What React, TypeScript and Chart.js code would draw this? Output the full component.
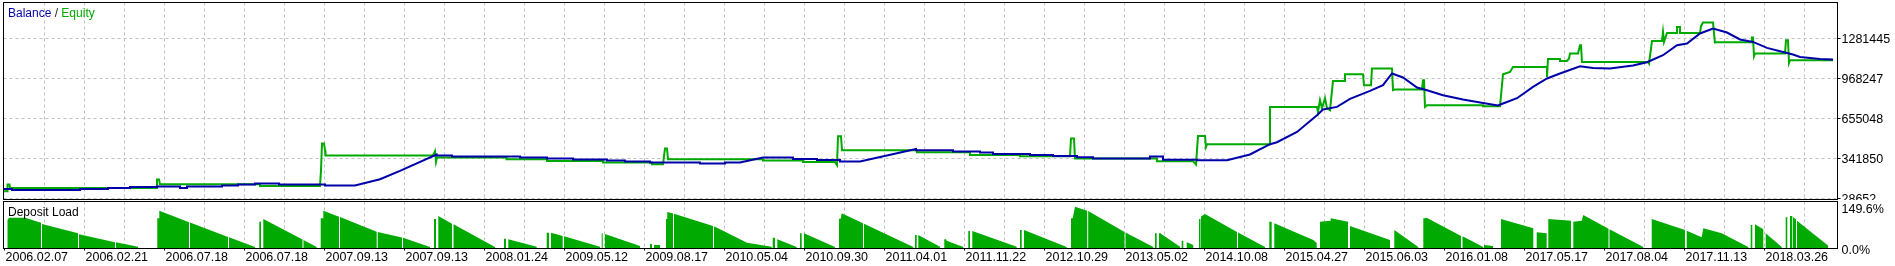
import React, { useEffect, useRef } from 'react';
import { Chart, registerables } from 'chart.js';

Chart.register(...registerables);

// ---------------- data ----------------
const dateLabels = [
  '2006.02.07', '2006.02.21', '2006.07.18', '2006.07.18', '2007.09.13', '2007.09.13',
  '2008.01.24', '2009.05.12', '2009.08.17', '2010.05.04', '2010.09.30', '2011.04.01',
  '2011.11.22', '2012.10.29', '2013.05.02', '2014.10.08', '2015.04.27', '2015.06.03',
  '2016.01.08', '2017.05.17', '2017.08.04', '2017.11.13', '2018.03.26',
];

const balanceLevels = [28652, 341850, 655048, 968247, 1281445];
const loadLevels = [0, 149.6];

// [trade index, balance]
const balancePoints = [
  [-0.5, 103800], [7.5, 103800], [7.5, 96000], [75.5, 96000], [75.5, 103800], [103.5, 103800],
  [103.5, 111700], [125.5, 111700], [125.5, 119500], [152.5, 119500], [152.5, 122600], [175.5, 122600],
  [175.5, 111700], [182.5, 111700], [182.5, 122600], [217.5, 122600], [217.5, 130400], [233.5, 130400],
  [233.5, 138300], [250.5, 138300], [250.5, 146100], [274.5, 146100], [274.5, 138300], [320.5, 138300],
  [320.5, 130400], [350.5, 130400], [375.5, 179800], [395.5, 244800], [432, 373200], [432, 365300],
  [447.5, 365300], [447.5, 357500], [515.5, 357500], [515.5, 349700], [542.5, 349700], [542.5, 341900],
  [568.5, 341900], [568.5, 334000], [602.5, 334000], [602.5, 326200], [620.5, 326200], [620.5, 318400],
  [645.5, 318400], [645.5, 310500], [695.5, 310500], [695.5, 302700], [720.5, 302700], [720.5, 310500],
  [735.5, 310500], [758.5, 349700], [788.5, 349700], [788.5, 338700], [812.5, 338700], [812.5, 330900],
  [835.5, 330900], [835.5, 318400], [855.5, 318400], [911.5, 417000], [911.5, 406800], [948.5, 406800],
  [948.5, 396700], [975.5, 396700], [975.5, 388800], [988.5, 388800], [988.5, 377900], [1025.5, 377900],
  [1025.5, 370000], [1048.5, 370000], [1048.5, 362200], [1072.5, 362200], [1072.5, 352000], [1088.5, 352000],
  [1088.5, 341900], [1145.5, 341900], [1145.5, 357500], [1158.5, 357500], [1158.5, 332500], [1192.5, 332500],
  [1192.5, 328500], [1222.5, 328500], [1245.5, 373200], [1265.5, 453800], [1272.5, 469500], [1292.5, 550100],
  [1312.5, 680900], [1318.5, 725500], [1332.5, 745900], [1345.5, 808500], [1365.5, 871200], [1378.5, 915800],
  [1387.5, 1007400], [1398.5, 976100], [1412.5, 897800], [1422.5, 876600], [1438.5, 837500], [1458.5, 803800],
  [1478.5, 777200], [1493.5, 756800], [1498.5, 772500], [1512.5, 814000], [1528.5, 902500], [1542.5, 968300],
  [1555.5, 1007400], [1575.5, 1064600], [1588.5, 1051300], [1605.5, 1046600], [1628.5, 1070000], [1642.5, 1095900],
  [1658.5, 1150700], [1672.5, 1229000], [1682.5, 1242300], [1695.5, 1320600], [1708.5, 1359800], [1722.5, 1328400],
  [1735.5, 1273600], [1748.5, 1254800], [1762.5, 1207900], [1775.5, 1182000], [1788.5, 1156200], [1795.5, 1137400],
  [1815.5, 1121700], [1828.5, 1117000],
];

// [trade index, equity]
const equityPoints = [
  [-0.5, 85800], [2.5, 85800], [3, 138300], [5, 138300], [5.5, 111700], [152.5, 111700],
  [152.5, 177400], [154.5, 177400], [155.5, 140600], [255.5, 140600], [255.5, 127300], [315.5, 127300],
  [316.5, 250200], [317.5, 459300], [319.5, 459300], [320.5, 406800], [321, 365300], [428.5, 365300],
  [430.5, 399000], [431.5, 315200], [432.5, 349700], [502, 349700], [502, 336400], [542.5, 336400],
  [542.5, 323100], [598.5, 323100], [598.5, 310500], [647.5, 310500], [647.5, 297200], [658.5, 297200],
  [660.5, 420200], [662.5, 420200], [663.5, 336400], [758.5, 336400], [758.5, 326200], [798.5, 326200],
  [798.5, 315200], [830.5, 315200], [832.5, 289400], [833.5, 516500], [836.5, 516500], [837.5, 406800],
  [912.5, 406800], [912.5, 391200], [965.5, 391200], [965.5, 370000], [1015.5, 370000], [1015.5, 359900],
  [1065.5, 359900], [1066.5, 498500], [1069.5, 498500], [1070.5, 341900], [1152.5, 341900], [1152.5, 320700],
  [1188.5, 320700], [1191.5, 294900], [1193.5, 518800], [1200.5, 518800], [1201.5, 432700], [1202.5, 453800],
  [1265.5, 453800], [1265.5, 745900], [1312.5, 745900], [1313.5, 706700], [1315.5, 798300], [1317.5, 735700],
  [1320.5, 814000], [1322.5, 735700], [1325.5, 720000], [1328.5, 949500], [1340.5, 949500], [1340.5, 1001900],
  [1358.5, 1001900], [1359.5, 915800], [1366.5, 915800], [1367.5, 1046600], [1387.5, 1046600], [1388.5, 876600],
  [1390.5, 882100], [1417.5, 882100], [1418.5, 954900], [1419.5, 954900], [1420.5, 745900], [1422.5, 759200],
  [1478.5, 759200], [1478.5, 751400], [1495.5, 751400], [1498.5, 1001900], [1505.5, 1019900], [1508.5, 1059100],
  [1542.5, 1059100], [1542.5, 980800], [1543.5, 1121700], [1555.5, 1121700], [1555.5, 1106100], [1562.5, 1106100],
  [1564.5, 1124900], [1565.5, 1164000], [1573.5, 1164000], [1575.5, 1229000], [1576.5, 1229000], [1577.5, 1098200],
  [1643.5, 1098200], [1644.5, 1085700], [1647.5, 1262700], [1657.5, 1262700], [1658.5, 1333100], [1659.5, 1254800],
  [1662.5, 1325300], [1672.5, 1325300], [1672.5, 1372300], [1675.5, 1372300], [1675.5, 1325300], [1695.5, 1325300],
  [1696.5, 1377800], [1698.5, 1406700], [1708.5, 1406700], [1710.5, 1242300], [1710.5, 1252500], [1747.5, 1252500],
  [1747.5, 1289300], [1748.5, 1289300], [1749.5, 1142900], [1750.5, 1164000], [1780.5, 1164000], [1781.5, 1268100],
  [1783.5, 1268100], [1784.5, 1090400], [1785.5, 1111500], [1828.5, 1111500],
];

// deposit load (%) : runs of contiguous bars, [trade index, load]
const loadRuns = [
  [[2.8, 100.8], [4.8, 109.3], [20.5, 109.3], [36.5, 90.9]],
  [[37.5, 86.2], [73.5, 52.1]],
  [[74.5, 48.4], [110.5, 19.1]],
  [[111.5, 19.1], [133.5, 2.9]],
  [[152.8, 107.1], [154.8, 107.1], [154.8, 134.9], [184.5, 92.4]],
  [[185.5, 91.7], [223.5, 38.5]],
  [[224.5, 37.4], [250.5, 1.8]],
  [[254.8, 94.6], [256.5, 94.6]],
  [[258.8, 104.5], [260.8, 100.8], [298, 29]],
  [[299, 27.9], [312.2, 1.8]],
  [[316.2, 107.1], [318.8, 107.1], [318.8, 134.9], [334.5, 112.9]],
  [[335.5, 112], [372.2, 57.9]],
  [[373.2, 57], [397.5, 36.7]],
  [[398.5, 36], [425.5, 1.8]],
  [[429.5, 104.5], [431.5, 104.5]],
  [[433.8, 115.5], [447.5, 86.9]],
  [[449, 85.5], [490.5, 1.8]],
  [[499.5, 32.3], [501.5, 32.3]],
  [[503.8, 30.1], [532.2, 2.9]],
  [[542.2, 54.3], [544.5, 54.3]],
  [[546.5, 54.3], [558.2, 42.2]],
  [[559.5, 41.1], [595.5, 2.9]],
  [[597.2, 52.1], [598.2, 52.1]],
  [[600.5, 49.5], [635.5, 5.5]],
  [[645.5, 12.8], [647.5, 12.8]],
  [[649.5, 9.2], [655.5, 9.2]],
  [[661.5, 104.5], [662.8, 104.5], [662.8, 130.2], [668.5, 124.7]],
  [[669.5, 123.9], [708.5, 78.8]],
  [[709.5, 77.7], [742.5, 17.6], [767.2, 2.9]],
  [[768.2, 35.9], [770.5, 35.9]],
  [[772.8, 30.1], [792.2, 1.8]],
  [[795.5, 52.1], [797.2, 52.1]],
  [[799.5, 52.1], [830.5, 1.8]],
  [[834.5, 105.6], [836.2, 105.6], [837.2, 125.4], [858.5, 88.7]],
  [[859.5, 86.9], [908.8, 1.8]],
  [[910.5, 45.8], [912.2, 45.8]],
  [[913.8, 45.8], [935.5, 2.9]],
  [[939.8, 30.1], [941.5, 30.1], [942.2, 24.9], [958.8, 1.8]],
  [[963.8, 60.5], [965.5, 60.5]],
  [[967.8, 60.5], [1012.2, 2.9]],
  [[1015.5, 64.2], [1017.2, 64.2]],
  [[1019.5, 64.2], [1062.2, 1.8]],
  [[1066.5, 107.1], [1068.2, 107.1], [1070.5, 149.6], [1082.7, 134.9]],
  [[1083.7, 133.8], [1120, 56.8]],
  [[1121, 55], [1148.8, 1.8]],
  [[1150.5, 52.1], [1152.2, 52.1]],
  [[1154.5, 52.1], [1156.2, 52.1], [1157.2, 48.4], [1175.5, 2.9]],
  [[1177.2, 24.9], [1178.8, 24.9]],
  [[1182.2, 19.1], [1188.8, 9.2]],
  [[1194.5, 104.5], [1196, 104.5]],
  [[1196.5, 113.7], [1200.5, 122.8], [1232.5, 56.8]],
  [[1233.5, 55], [1260.5, 1.8]],
  [[1264.8, 94.6], [1267.2, 94.6]],
  [[1269.8, 88.7], [1308.8, 27.5], [1312.2, 16.5]],
  [[1315.5, 94.6], [1325.5, 98.3], [1326.2, 107.1], [1343.5, 94.6]],
  [[1345.5, 78.8], [1385.5, 27.5]],
  [[1389.8, 64.2], [1413.8, 1.8]],
  [[1418.8, 107.1], [1420.5, 107.1], [1422.2, 109.3], [1456.5, 42.2]],
  [[1458, 41.1], [1478.8, 1.8]],
  [[1479.5, 9.2], [1488.5, 5.5]],
  [[1496.5, 104.5], [1528.8, 70.4]],
  [[1532.2, 55.7], [1542.2, 52.1]],
  [[1543.8, 104.5], [1566.5, 98.3]],
  [[1568.8, 94.6], [1577.2, 98.3], [1578.8, 119.2], [1604, 68.6]],
  [[1605, 66.7], [1638.8, 1.8]],
  [[1647.2, 104.5], [1680.5, 64.2]],
  [[1682.2, 61.6], [1697.2, 37.4], [1698.8, 70.4], [1717.2, 52.1], [1743.8, 1.8]],
  [[1746.2, 82.5], [1747.8, 82.5]],
  [[1750.5, 85.1], [1758.8, 66.7]],
  [[1761.2, 52.1], [1777.2, 1.8]],
  [[1781.2, 110.7], [1782.8, 110.7]],
  [[1785.5, 115.5], [1787.8, 115.5]],
  [[1788.5, 110.7], [1791.5, 103.4]],
  [[1792.5, 98.3], [1823.8, 6.6]],
];

// ---------------- layout / style ----------------
const W = 1895;
const H = 266;
const TOP_H = 200;
const BOTTOM_H = H - TOP_H;

const X_MIN = -1;
const X_MAX = 1833;
const GRID_STEP = 40;
const LABEL_STEP = 80;
const BAL_MIN = 20822;
const BAL_MAX = 1563323;
const LOAD_MIN = -3.67;
const LOAD_MAX = 168.7;

const FAMILY = '"Liberation Sans", Arial, sans-serif';
const FONT = { family: FAMILY, size: 12.5 };
const GRID_COLOR = '#c0c0c0';
const CLEAR = 'rgba(0,0,0,0)';
const BLUE = '#0000aa';
const GREEN = '#00aa00';

const xTicks: number[] = [];
for (let v = 0; v <= X_MAX; v += GRID_STEP) xTicks.push(v);

const toXY = (arr: number[][]) => arr.map(([x, y]) => ({ x, y }));

function buildLoad() {
  const out: { x: number; y: number }[] = [];
  for (const run of loadRuns) {
    out.push({ x: run[0][0], y: LOAD_MIN });
    for (const [x, y] of run) out.push({ x, y });
    out.push({ x: run[run.length - 1][0], y: LOAD_MIN });
  }
  return out;
}

function zeroPad(s: any) {
  s.paddingLeft = 0;
  s.paddingRight = 0;
  s.paddingTop = 0;
  s.paddingBottom = 0;
}

function makeFrame(id: string, parts: { text: string; color: string }[], tx: number, ty: number) {
  return {
    id,
    afterDraw(chart: any) {
      const { ctx, chartArea: a } = chart;
      const al = (v: number) => Math.round(v - 0.5) + 0.5;
      ctx.save();
      ctx.setLineDash([]);
      ctx.lineWidth = 1;
      ctx.strokeStyle = '#000';
      const l = al(a.left), r = al(a.right), t = al(a.top), b = al(a.bottom);
      ctx.strokeRect(l, t, r - l, b - t);
      ctx.font = `12px ${FAMILY}`;
      ctx.textBaseline = 'alphabetic';
      ctx.textAlign = 'left';
      let cx = tx;
      for (const p of parts) {
        ctx.fillStyle = p.color;
        ctx.fillText(p.text, cx, ty);
        cx += ctx.measureText(p.text).width;
      }
      ctx.restore();
    },
  };
}

function xScale(showLabels: boolean) {
  return {
    type: 'linear',
    min: X_MIN,
    max: X_MAX,
    afterBuildTicks: (s: any) => {
      s.ticks = xTicks.map((v) => ({ value: v }));
    },
    grid: {
      color: (c: any) => (c.index === 0 ? CLEAR : GRID_COLOR),
      lineWidth: 1,
      drawTicks: showLabels,
      tickLength: 2,
      tickColor: (c: any) => (c.tick && c.tick.value % LABEL_STEP === 0 ? '#000' : CLEAR),
    },
    border: { display: false, dash: [3, 3] },
    ticks: {
      display: showLabels,
      autoSkip: false,
      maxRotation: 0,
      minRotation: 0,
      align: 'start',
      padding: 0,
      labelOffset: 1,
      font: FONT,
      color: '#000',
      callback: (v: number) => (v % LABEL_STEP === 0 ? dateLabels[v / LABEL_STEP] ?? '' : ''),
    },
    afterFit: (s: any) => {
      s.height = showLabels ? 17.5 : 0;
      zeroPad(s);
    },
  };
}

const common = {
  responsive: false,
  animation: false,
  devicePixelRatio: 1,
  events: [],
  plugins: { legend: { display: false }, tooltip: { enabled: false }, title: { display: false } },
  elements: { point: { radius: 0 }, line: { tension: 0 } },
};

export default function App() {
  const topRef = useRef<HTMLCanvasElement>(null);
  const botRef = useRef<HTMLCanvasElement>(null);

  useEffect(() => {
    const top = new Chart(topRef.current as HTMLCanvasElement, {
      type: 'line',
      data: {
        datasets: [
          { label: 'Balance', data: toXY(balancePoints), borderColor: BLUE, borderWidth: 2, pointRadius: 0, fill: false },
          { label: 'Equity', data: toXY(equityPoints), borderColor: GREEN, borderWidth: 2, pointRadius: 0, fill: false },
        ],
      },
      options: {
        ...common,
        layout: { padding: { left: 3.5, top: 2.5, right: 0, bottom: 0.5 }, autoPadding: false },
        scales: {
          x: xScale(false),
          y: {
            position: 'right',
            min: BAL_MIN,
            max: BAL_MAX,
            afterBuildTicks: (s: any) => {
              s.ticks = balanceLevels.map((v) => ({ value: v }));
            },
            grid: { color: GRID_COLOR, lineWidth: 1, tickLength: 3, tickColor: '#000' },
            border: { display: false, dash: [3, 3] },
            ticks: { font: FONT, color: '#000', padding: 1, labelOffset: 1.5, callback: (v: number) => String(v) },
            afterFit: (s: any) => {
              s.width = 57.5;
              zeroPad(s);
            },
          },
        },
      } as any,
      plugins: [makeFrame('frameTop', [
        { text: 'Balance', color: BLUE },
        { text: ' / ', color: '#202020' },
        { text: 'Equity', color: GREEN },
      ], 8, 17)],
    } as any);

    const bot = new Chart(botRef.current as HTMLCanvasElement, {
      type: 'line',
      data: {
        datasets: [
          {
            label: 'Deposit Load',
            data: buildLoad(),
            borderColor: CLEAR,
            borderWidth: 0,
            backgroundColor: GREEN,
            fill: 'start',
            pointRadius: 0,
          },
        ],
      },
      options: {
        ...common,
        layout: { padding: { left: 3.5, top: 1.5, right: 0, bottom: 0 }, autoPadding: false },
        scales: {
          x: xScale(true),
          y: {
            position: 'right',
            min: LOAD_MIN,
            max: LOAD_MAX,
            afterBuildTicks: (s: any) => {
              s.ticks = loadLevels.map((v) => ({ value: v }));
            },
            grid: { drawOnChartArea: false, tickLength: 3, tickColor: CLEAR },
            border: { display: false },
            ticks: { font: FONT, color: '#000', padding: 1, labelOffset: 2.7, callback: (v: number) => v.toFixed(1) + '%' },
            afterFit: (s: any) => {
              s.width = 57.5;
              zeroPad(s);
            },
          },
        },
      } as any,
      plugins: [makeFrame('frameBottom', [{ text: 'Deposit Load', color: '#000' }], 8, 16)],
    } as any);

    return () => {
      top.destroy();
      bot.destroy();
    };
  }, []);

  return (
    <div style={{ position: 'fixed', left: 0, top: 0, width: W, height: H, background: '#fff' }}>
      <canvas
        ref={topRef}
        width={W}
        height={TOP_H}
        style={{ position: 'absolute', left: 0, top: 0, width: W, height: TOP_H, display: 'block' }}
      />
      <canvas
        ref={botRef}
        width={W}
        height={BOTTOM_H}
        style={{ position: 'absolute', left: 0, top: TOP_H, width: W, height: BOTTOM_H, display: 'block' }}
      />
    </div>
  );
}
